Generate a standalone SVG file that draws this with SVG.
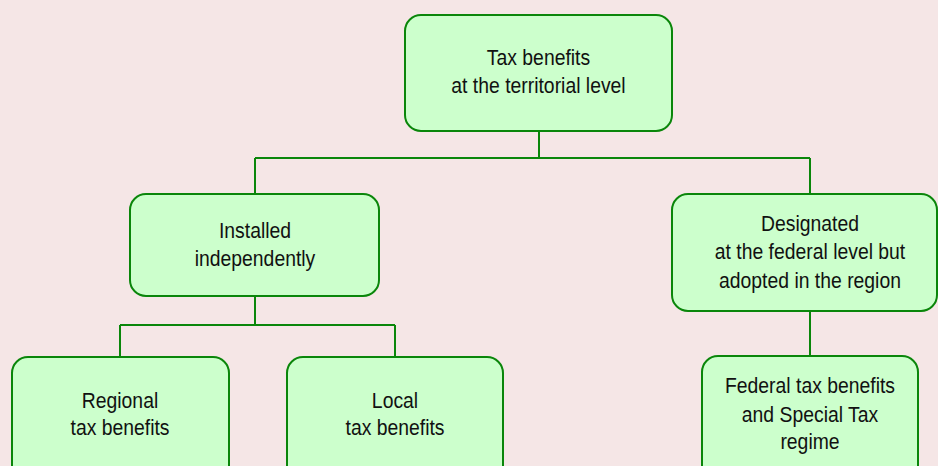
<svg xmlns="http://www.w3.org/2000/svg" width="938" height="466" viewBox="0 0 938 466">
<style>
.box{fill:#ccffcc;stroke:#0a860a;stroke-width:2}
.ln{fill:none;stroke:#0a860a;stroke-width:2}
text{font-family:"Liberation Sans",Arial,sans-serif;font-size:22px;fill:#111;text-anchor:middle}
</style>
<rect width="938" height="466" fill="#f5e6e6"/>
<g id="connectors">
<path class="ln" d="M539 131V158M255 158H810M255 158V194M810 158V194"/>
<path class="ln" d="M255 296V325M120 325H395M120 325V357M395 325V357"/>
<path class="ln" d="M810 311V356"/>
</g>
<g id="n-top">
<rect class="box" x="405" y="15" width="267" height="116" rx="16"/>
<text transform="matrix(0.88 0 0 1 538.5 65)">Tax benefits</text>
<text transform="matrix(0.88 0 0 1 538.5 93)">at the territorial level</text>
</g>
<g id="n-installed">
<rect class="box" x="130" y="194" width="249" height="102" rx="16"/>
<text transform="matrix(0.88 0 0 1 255 238)">Installed</text>
<text transform="matrix(0.88 0 0 1 255 266)">independently</text>
</g>
<g id="n-designated">
<rect class="box" x="672" y="194" width="265" height="117" rx="16"/>
<text transform="matrix(0.88 0 0 1 810 231)">Designated</text>
<text transform="matrix(0.88 0 0 1 810 259)">at the federal level but</text>
<text transform="matrix(0.88 0 0 1 810 288)">adopted in the region</text>
</g>
<g id="n-regional">
<rect class="box" x="12" y="357" width="217" height="125" rx="16"/>
<text transform="matrix(0.88 0 0 1 120 408)">Regional</text>
<text transform="matrix(0.88 0 0 1 120 435)">tax benefits</text>
</g>
<g id="n-local">
<rect class="box" x="287" y="357" width="216" height="125" rx="16"/>
<text transform="matrix(0.88 0 0 1 395 408)">Local</text>
<text transform="matrix(0.88 0 0 1 395 435)">tax benefits</text>
</g>
<g id="n-federal">
<rect class="box" x="702" y="356" width="216" height="126" rx="16"/>
<text transform="matrix(0.88 0 0 1 810 393)">Federal tax benefits</text>
<text transform="matrix(0.88 0 0 1 810 422)">and Special Tax</text>
<text transform="matrix(0.88 0 0 1 810 449)">regime</text>
</g>
</svg>
